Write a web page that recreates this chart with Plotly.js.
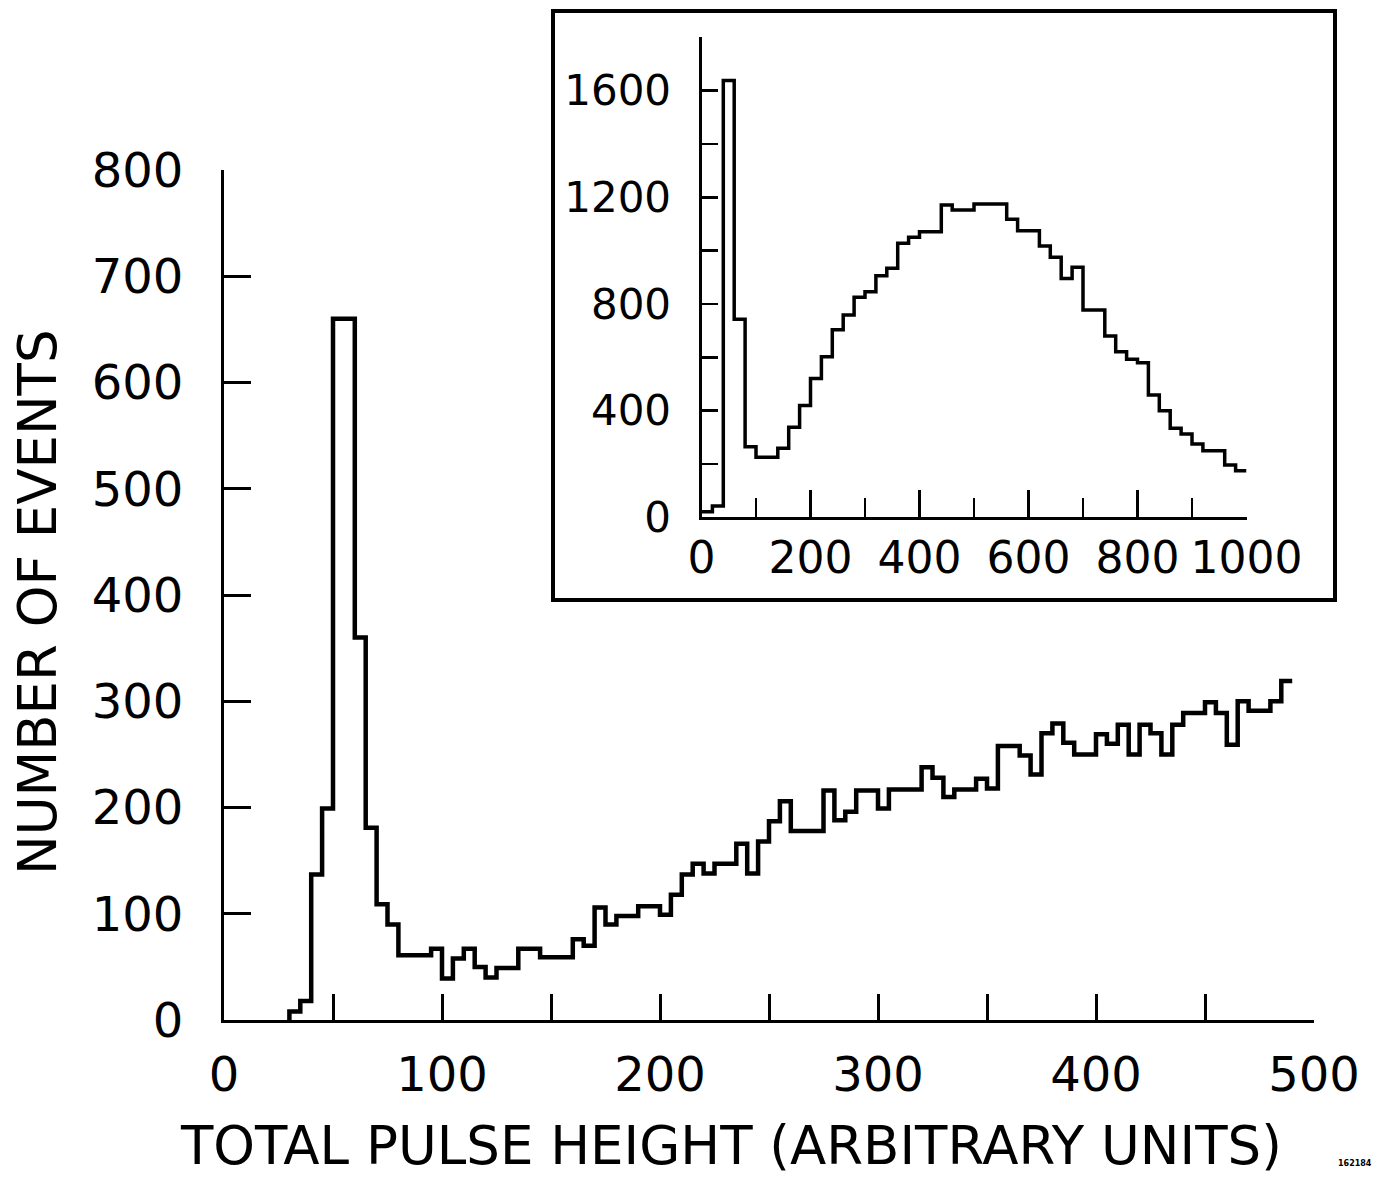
<!DOCTYPE html>
<html>
<head>
<meta charset="utf-8">
<script src="https://cdn.plot.ly/plotly-3.0.1.min.js"></script>
<style>
  html, body { margin: 0; padding: 0; background: #ffffff; }
  #chart { width: 1378px; height: 1179px; }
</style>
</head>
<body>
<div id="chart"></div>
<script>
// ---------- DATA ----------
// Main histogram: total pulse height, bins of 5 units starting at 30
const mainBinStart = 30;
const mainBinWidth = 5;
const mainCounts = [
  8, 18, 137, 199, 660, 660, 360, 181, 109, 90,
  61, 61, 61, 67, 39, 58, 67, 50, 40, 49,
  49, 67, 67, 59, 59, 59, 76, 70, 106, 90,
  98, 98, 107, 107, 99, 118, 137, 147, 138, 147,
  147, 166, 138, 168, 187, 206, 178, 178, 178, 216,
  188, 196, 216, 216, 199, 217, 217, 217, 238, 228,
  210, 217, 217, 227, 218, 258, 258, 249, 231, 270,
  279, 261, 250, 250, 269, 260, 278, 250, 278, 270,
  250, 278, 289, 289, 299, 289, 259, 300, 291, 291,
  300, 319
];

// Inset histogram: bins of 20 units starting at 0
const insetBinStart = 0;
const insetBinWidth = 20;
const insetCounts = [
  21, 42, 1638, 743, 265, 225, 225, 259, 338, 419,
  521, 602, 703, 759, 825, 846, 906, 934, 1028, 1050,
  1071, 1071, 1171, 1153, 1153, 1175, 1175, 1175, 1118, 1075,
  1075, 1018, 975, 896, 938, 778, 778, 680, 621, 593,
  580, 459, 400, 334, 312, 275, 250, 250, 196, 175
];

// Tick labels / texts
const mainXTitle = "TOTAL PULSE HEIGHT (ARBITRARY UNITS)";
const mainYTitle = "NUMBER OF EVENTS";
const figureCode = "162184";

// ---------- build step outlines from the bins ----------
function stepOutline(start, width, counts, startFromZero) {
  const xs = [], ys = [];
  if (startFromZero) { xs.push(start); ys.push(0); }
  for (let i = 0; i < counts.length; i++) {
    xs.push(start + i * width);
    ys.push(counts[i]);
  }
  xs.push(start + counts.length * width);
  ys.push(counts[counts.length - 1]);
  return { xs, ys };
}

const mainStep = stepOutline(mainBinStart, mainBinWidth, mainCounts, true);
const insetStep = stepOutline(insetBinStart, insetBinWidth, insetCounts, false);

// ---------- geometry (page = paper) ----------
const W = 1378, H = 1179;
const px = v => v / W;
const py = v => (H - v) / H;

const FONT = "DejaVu Sans, Liberation Sans, sans-serif";

const traces = [
  {
    x: mainStep.xs, y: mainStep.ys,
    xaxis: 'x', yaxis: 'y',
    type: 'scatter', mode: 'lines',
    line: { shape: 'hv', color: '#000', width: 4.5 },
    hoverinfo: 'skip'
  },
  {
    x: insetStep.xs, y: insetStep.ys,
    xaxis: 'x2', yaxis: 'y2',
    type: 'scatter', mode: 'lines',
    line: { shape: 'hv', color: '#000', width: 3.5 },
    hoverinfo: 'skip'
  }
];

const axisCommon = {
  showgrid: false, zeroline: false, showline: true,
  linecolor: '#000', tickcolor: '#000',
  ticks: 'inside', fixedrange: true
};

const layout = {
  width: W, height: H,
  margin: { l: 0, r: 0, t: 0, b: 0, pad: 0 },
  paper_bgcolor: '#fff', plot_bgcolor: 'rgba(0,0,0,0)',
  showlegend: false,
  font: { family: FONT, color: '#000' },
  xaxis: Object.assign({}, axisCommon, {
    domain: [px(224), px(1314)],
    anchor: 'y',
    range: [0, 500],
    tick0: 0, dtick: 100,
    ticklen: 26, tickwidth: 3, linewidth: 3,
    minor: { dtick: 50, tick0: 0, ticks: 'inside', ticklen: 26, tickwidth: 3, tickcolor: '#000' },
    tickfont: { size: 48, family: FONT },
    ticklabelstandoff: 10
  }),
  yaxis: Object.assign({}, axisCommon, {
    domain: [py(1020), py(170)],
    anchor: 'x',
    range: [0, 800],
    tick0: 0, dtick: 100,
    ticklen: 27, tickwidth: 3, linewidth: 3,
    tickfont: { size: 48, family: FONT },
    ticklabelstandoff: 28
  }),
  xaxis2: Object.assign({}, axisCommon, {
    domain: [px(701.5), px(1246.5)],
    anchor: 'y2',
    range: [0, 1000],
    tick0: 0, dtick: 200,
    ticklen: 27, tickwidth: 2.5, linewidth: 3,
    minor: { dtick: 100, tick0: 0, ticks: 'inside', ticklen: 19, tickwidth: 2.5, tickcolor: '#000' },
    tickfont: { size: 44, family: FONT },
    ticklabelstandoff: 0
  }),
  yaxis2: Object.assign({}, axisCommon, {
    domain: [py(517.3), py(37.4)],
    anchor: 'x2',
    range: [0, 1800],
    tick0: 0, dtick: 400,
    ticklen: 16, tickwidth: 2.5, linewidth: 3,
    minor: { dtick: 200, tick0: 0, ticks: 'inside', ticklen: 16, tickwidth: 2.5, tickcolor: '#000' },
    tickfont: { size: 42, family: FONT },
    ticklabelstandoff: 19
  }),
  shapes: [
    {
      type: 'rect', xref: 'paper', yref: 'paper',
      x0: px(553), x1: px(1335), y0: py(600), y1: py(11),
      line: { color: '#000', width: 4 }, fillcolor: 'rgba(0,0,0,0)'
    }
  ],
  annotations: [
    {
      text: mainXTitle, xref: 'paper', yref: 'paper',
      x: px(731), y: py(1145), xanchor: 'center', yanchor: 'middle',
      borderpad: 0,
      showarrow: false, font: { size: 53, family: FONT, color: '#000' }
    },
    {
      text: mainYTitle, xref: 'paper', yref: 'paper',
      x: px(37), y: py(602), xanchor: 'center', yanchor: 'middle',
      textangle: -90,
      showarrow: false, font: { size: 53, family: FONT, color: '#000' }
    },
    {
      text: '<b>' + figureCode + '</b>', xref: 'paper', yref: 'paper',
      x: px(1355), y: py(1163), xanchor: 'center', yanchor: 'middle',
      showarrow: false, font: { size: 8, family: FONT, color: '#000' }
    }
  ]
};

Plotly.newPlot('chart', traces, layout, { displayModeBar: false, staticPlot: true });
</script>
</body>
</html>
